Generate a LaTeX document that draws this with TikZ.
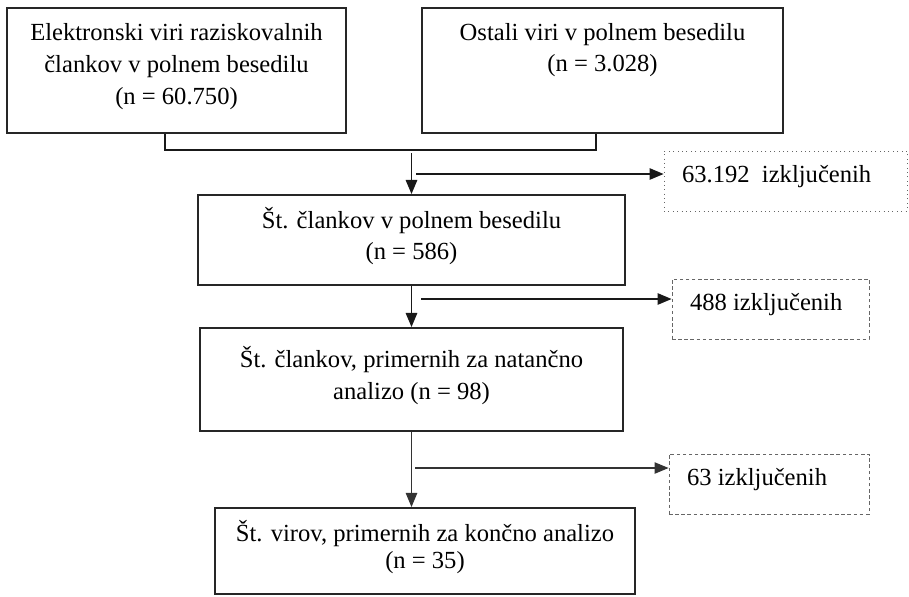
\documentclass[tikz,border=0pt]{standalone}
\usepackage{fontspec}
\setmainfont{Liberation Serif}
\usetikzlibrary{arrows.meta}

\begin{document}
\begin{tikzpicture}[
		x=0.02cm, y=-0.02cm,
		>={Triangle[length=8pt,width=6.5pt]},
		box/.style={
			draw=black!85,
			line width=1.1pt,
			align=center,
			inner sep=0pt,
			font=\fontsize{14}{18}\selectfont,
			execute at end node={\rule[-7.5pt]{0pt}{0pt}}
		},
		excl/.style={
			draw=black!60,
			line width=0.5pt,
			align=flush left,
			inner xsep=0.36cm,
			inner ysep=0pt,
			text height=0.62cm,
			text depth=0.58cm,
			font=\fontsize{14}{18}\selectfont
		},
		flow/.style={->, line width=0.9pt, draw=black!90},
		]
		
		\useasboundingbox (0,0) rectangle (909,596);
		
		% Sources
		\node[box, minimum width=6.78cm, minimum height=2.5cm] (elektronski) at (176.5,70.5)
		{Elektronski viri raziskovalnih\\člankov v polnem besedilu\\(n = 60.750)};
		\node[box, align=flush center, text width=6.9cm, text height=0.64cm, text depth=1.86cm, inner xsep=0.16cm,
		execute at end node={}] (ostali) at (602.5,70.5)
		{Ostali viri v polnem besedilu\\(n = 3.028)};
		
		% Screening steps
		\node[box, minimum width=8.54cm, minimum height=1.8cm] (polno) at (411.5,240)
		{Št. člankov v polnem besedilu\\(n = 586)};
		\node[box, minimum width=8.46cm, minimum height=2.06cm] (natancno) at (411.5,379.5)
		{Št. člankov, primernih za natančno\\analizo (n = 98)};
		\node[box, minimum width=8.4cm, minimum height=1.72cm] (koncno) at (425,551)
		{Št. virov, primernih za končno analizo\\[-0.08cm](n = 35)};
		
		% Excluded
		\node[excl, dotted, text width=4.14cm] (izk1) at (785.5,181) {63.192\ \ izključenih};
		\node[excl, dashed, dash pattern=on 2pt off 1.5pt, text width=3.22cm] (izk2) at (770.5,309) {488 izključenih};
		\node[excl, dashed, dash pattern=on 2pt off 1.5pt, text width=3.28cm] (izk3) at (769,484) {63 izključenih};
		
		% Merge of sources
		\coordinate (zdruzi) at (411.5,150);
		\draw[line width=0.9pt, black!90] (elektronski.south -| 165,0) |- (zdruzi)
		-| (ostali.south -| 596,0);
		\draw[flow] (411.5,153) -- (polno.north);
		
		% Flow down
		\draw[flow] (polno.south) -- (natancno.north);
		\draw[->, line width=0.6pt, black!80] (natancno.south) -- (natancno.south |- koncno.north);
		
		% Exclusions
		\coordinate (iz1) at (416,174);
		\coordinate (iz2) at (421,299);
		\coordinate (iz3) at (415,468);
		\draw[flow] (iz1) -- (iz1 -| izk1.west);
		\draw[flow] (iz2) -- (iz2 -| izk2.west);
		\draw[->, line width=0.6pt, black!80] (iz3) -- (iz3 -| izk3.west);
		
	\end{tikzpicture}
\end{document}
